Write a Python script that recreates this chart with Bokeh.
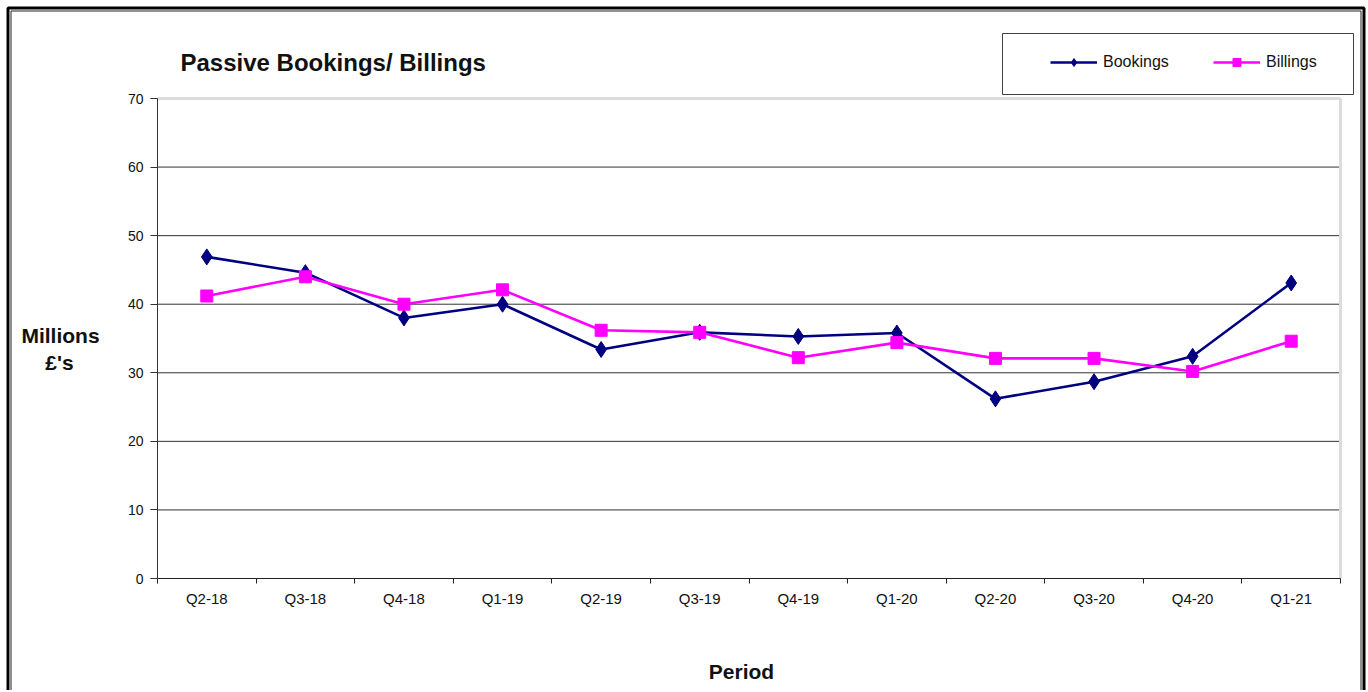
from bokeh.plotting import figure
from bokeh.models import (Range1d, FixedTicker, Label, BoxAnnotation,
                          Legend, LegendItem)
from bokeh.embed import file_html
from bokeh.resources import INLINE

categories = ["Q2-18", "Q3-18", "Q4-18", "Q1-19", "Q2-19", "Q3-19",
              "Q4-19", "Q1-20", "Q2-20", "Q3-20", "Q4-20", "Q1-21"]
bookings = [46.9, 44.6, 38.0, 40.0, 33.4, 35.9, 35.3, 35.8, 26.2, 28.7, 32.4, 43.1]
billings = [41.2, 44.0, 40.0, 42.1, 36.2, 35.9, 32.2, 34.4, 32.1, 32.1, 30.2, 34.6]
y_ticks = [0, 10, 20, 30, 40, 50, 60, 70]
grid_ticks = [10, 20, 30, 40, 50, 60]
Y_MAX = 70

FONT = "Liberation Sans"
n = len(categories)
xs = [i + 0.5 for i in range(n)]

# canvas / plot-area layout (pixels, top-left origin)
W, H = 1366, 690
PL, PR, PT, PB = 157, 1340, 98, 578
ux = n / (PR - PL)
uy = Y_MAX / (PB - PT)
x_range = Range1d(-PL * ux, n + (W - PR) * ux)
y_range = Range1d(-(H - PB) * uy, Y_MAX + PT * uy)

p = figure(width=W, height=H, output_backend="svg", toolbar_location=None,
           x_range=x_range, y_range=y_range, title=None,
           min_border=0, min_border_left=0, min_border_right=0,
           min_border_top=0, min_border_bottom=0)
p.outline_line_color = None
p.background_fill_color = "white"
p.border_fill_color = "white"
p.grid.visible = False

# axes drawn at the plot-area edges
p.xaxis.fixed_location = 0
p.xaxis.bounds = (0, n)
p.xaxis.ticker = FixedTicker(ticks=xs, minor_ticks=list(range(n + 1)))
p.xaxis.major_label_overrides = {x: c for x, c in zip(xs, categories)}
p.xaxis.major_tick_out = 0
p.xaxis.major_tick_in = 0
p.xaxis.minor_tick_out = 5
p.xaxis.minor_tick_in = 0
p.xaxis.minor_tick_line_color = "#222222"
p.xaxis.axis_line_color = "#222222"
p.xaxis.major_label_text_font = FONT
p.xaxis.major_label_text_font_size = "15px"
p.xaxis.major_label_text_color = "#111111"
p.xaxis.major_label_standoff = 6

p.yaxis.fixed_location = 0
p.yaxis.bounds = (0, Y_MAX)
p.yaxis.ticker = FixedTicker(ticks=y_ticks)
p.yaxis.major_tick_out = 7
p.yaxis.major_tick_in = 0
p.yaxis.minor_tick_line_color = None
p.yaxis.axis_line_color = "#333333"
p.yaxis.major_tick_line_color = "#333333"
p.yaxis.major_label_text_font = FONT
p.yaxis.major_label_text_font_size = "14px"
p.yaxis.major_label_text_color = "#111111"
p.yaxis.major_label_standoff = 7

# horizontal grid lines inside the plot area
p.segment(x0=0, x1=n, y0=grid_ticks, y1=grid_ticks, line_color="#333333",
          line_width=1)
# light plot-area border (top / right)
p.segment(x0=[0, n], y0=[Y_MAX, 0], x1=[n, n], y1=[Y_MAX, Y_MAX],
          line_color="#dcdcdc", line_width=3)

# series
l1 = p.line(xs, bookings, line_color="#000080", line_width=2.6)
m1 = p.scatter(xs, bookings, marker="diamond", size=16,
               fill_color="#000080", line_color="#000080")
l2 = p.line(xs, billings, line_color="#FF00FF", line_width=2.6)
m2 = p.scatter(xs, billings, marker="square", size=12, fill_color="#FF00FF",
               line_color="#FF00FF")

legend = Legend(items=[LegendItem(label="Bookings", renderers=[l1, m1]),
                       LegendItem(label="Billings", renderers=[l2, m2])],
                orientation="horizontal", location=(1050, H - 72),
                glyph_width=47, glyph_height=20, label_standoff=6,
                label_width=70, spacing=40, padding=0, margin=0,
                label_height=20,
                label_text_font=FONT, label_text_font_size="16px",
                label_text_color="#111111",
                border_line_alpha=0, background_fill_alpha=0)
p.add_layout(legend, "center")


def scr(left, right, top, bottom, **kw):
    return BoxAnnotation(left=left, right=right, top=H - top, bottom=H - bottom,
                         left_units="screen", right_units="screen",
                         top_units="screen", bottom_units="screen",
                         fill_alpha=0, line_alpha=1, **kw)


# legend box
p.add_layout(scr(1002, 1353, 33, 94, line_color="#404040", line_width=1))
# outer double frame
p.add_layout(scr(7.5, 1363.5, 7.5, H + 40, line_color="black", line_width=3))
p.add_layout(scr(10.5, 1360.5, 10.5, H + 40, line_color="#222222", line_width=1))


def txt(x, y, text, size, align="left", bold=True):
    return Label(x=x, y=H - y, x_units="screen", y_units="screen", text=text,
                 text_font=FONT, text_font_size=size,
                 text_font_style="bold" if bold else "normal",
                 text_align=align, text_baseline="alphabetic",
                 text_color="#111111")


p.add_layout(txt(180, 62, "Passive Bookings/ Billings", "24px"))
p.add_layout(txt(60, 335, "Millions", "21px", "center"))
p.add_layout(txt(59, 362, "£'s", "21px", "center"))
p.add_layout(txt(741, 671, "Period", "21px", "center"))

open("out.html", "w").write(file_html(p, INLINE))
